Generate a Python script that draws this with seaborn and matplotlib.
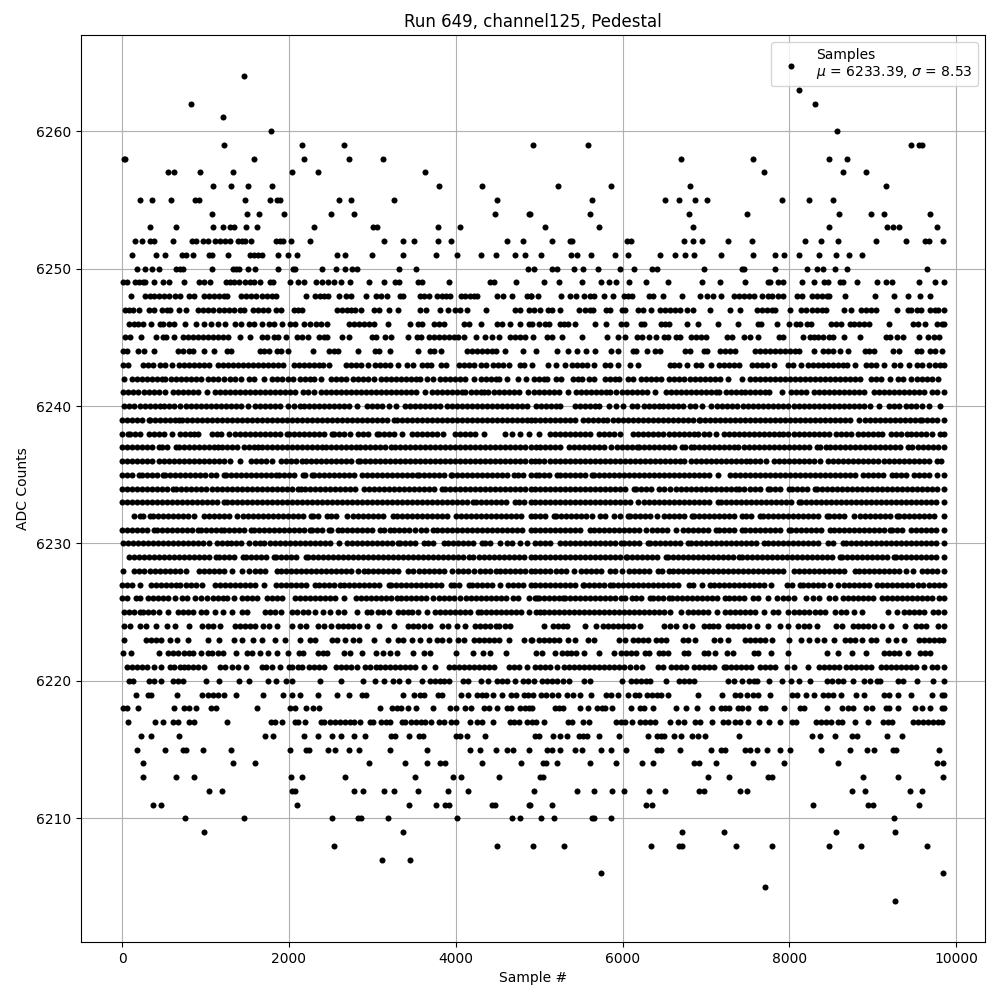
import matplotlib
matplotlib.use("Agg")
import matplotlib.pyplot as plt
import pandas as pd
import seaborn as sns

# samples, one list per ADC level
adc_6264 = [1460]
adc_6263 = [8113]
adc_6262 = [824, 8305]
adc_6261 = [1208]
adc_6260 = [1784, 8569]
adc_6259 = [1220, 2156, 2660, 4925, 5581, 9457, 9557, 9593]
adc_6258 = [20, 40, 1580, 2180, 2720, 3128, 6697, 7561, 8473, 8689]
adc_6257 = [548, 620, 932, 1328, 2036, 2348, 3632, 7693, 8641, 8917]
adc_6256 = [1088, 1304, 1508, 1796, 3800, 4316, 5221, 5857, 6805, 9157]
adc_6255 = [212, 356, 584, 872, 920, 1472, 1772, 1852, 1888, 2600, 2744, 3260, 4496, 5629, 6505, 6673, 6865, 7009, 7909, 8233, 8521]
adc_6254 = [1076, 1496, 1640, 1940, 2504, 2780, 4472, 4880, 4893, 5605, 6793, 7489, 8593, 8977, 9133, 9685]
adc_6253 = [332, 644, 1088, 1208, 1292, 1340, 1484, 1616, 2300, 3008, 3056, 3788, 4052, 5065, 5713, 6841, 8473, 9169, 9241, 9313, 9769]
adc_6252 = [152, 236, 340, 388, 608, 836, 888, 968, 1028, 1112, 1172, 1232, 1292, 1388, 1436, 1472, 1544, 1844, 1892, 1932, 2024, 2252, 3140, 3368, 3500, 3788, 3944, 4616, 4808,
            5149, 5365, 5397, 6049, 6097, 6733, 6841, 6949, 7261, 7549, 8185, 8377, 8581, 9037, 9397, 9625, 9673, 9841]
adc_6251 = [116, 404, 512, 716, 764, 848, 1040, 1076, 1268, 1536, 1580, 1628, 1676, 1868, 1988, 2096, 2576, 2672, 2996, 3368, 3764, 4016, 4304, 4484, 4712, 4832,
            5017, 5377, 5449, 5617, 5905, 6061, 6445, 6625, 6745, 6853, 7177, 7561, 7825, 7933, 8113, 8353, 8557, 8713, 8869]
adc_6250 = [176, 272, 356, 440, 644, 690, 728, 1076, 1328, 1370, 1400, 1508, 1592, 1868, 2048, 2072, 2396, 2564, 2672, 2756, 2816, 3320, 3524, 4868,
            4933, 5149, 5209, 5413, 5521, 5701, 5965, 6133, 6349, 6409, 6973, 7429, 7453, 7825, 8209, 8329, 8401, 8545, 8689, 9649]
adc_6249 = [8, 60, 152, 200, 248, 272, 380, 488, 560, 740, 920, 980, 1052, 1244, 1292, 1340, 1400, 1472, 1532, 1580, 1652, 1772, 1804, 2012, 2108, 2180, 2324, 2396, 2468, 2540, 2624, 2732, 2960, 3140, 3272, 3320, 3548, 3596, 3920, 4412, 4460, 4724,
            5053, 5233, 5509, 5737, 5833, 5917, 6073, 6277, 6541, 6949, 7165, 7465, 7741, 7773, 7861, 7921, 8149, 8293, 8413, 8461, 8605, 8641, 8809, 9049, 9157, 9229, 9553, 9745, 9853]
adc_6248 = [112, 272, 332, 380, 440, 500, 560, 632, 692, 800, 860, 980, 1040, 1100, 1160, 1220, 1260, 1424, 1484, 1544, 1604, 1676, 1736, 1796, 1844, 2204, 2312, 2372, 2420, 2468, 2600, 2684, 2744, 2924, 3044, 3104, 3176, 3332, 3368, 3572, 3620, 3680, 3776, 3836, 3884, 3932, 4064, 4112, 4172, 4220, 4260, 4496, 4568, 4676, 4856, 4900,
            4905, 4981, 5257, 5365, 5437, 5533, 5605, 5653, 5773, 5881, 6013, 6061, 6109, 6313, 6361, 6481, 6709, 6925, 7009, 7081, 7177, 7333, 7393, 7453, 7513, 7573, 7669, 7741, 7789, 7861, 7921, 8089, 8149, 8269, 8329, 8389, 8449, 8473, 8665, 9025, 9253, 9421, 9565, 9685]
adc_6247 = [32, 80, 128, 200, 320, 380, 476, 536, 572, 680, 764, 908, 968, 1028, 1088, 1160, 1220, 1280, 1340, 1412, 1460, 1568, 1628, 1688, 1748, 1844, 1904, 2060, 2108, 2156, 2576, 2636, 2696, 2744, 2792, 2864, 3020, 3080, 3200, 3308, 3572, 3644, 3812, 3908, 3992, 4052, 4136, 4364, 4712, 4772, 4880,
            4933, 5005, 5101, 5149, 5245, 5473, 5545, 5605, 5641, 5797, 5845, 5989, 6025, 6181, 6241, 6337, 6445, 6505, 6565, 6625, 6685, 6769, 6841, 7045, 7285, 7405, 7609, 7669, 7729, 7789, 7825, 8005, 8137, 8197, 8269, 8329, 8389, 8437, 8653, 8737, 8857, 8917, 8977, 9037, 9289, 9421, 9457, 9529, 9577, 9685, 9745, 9781, 9853]
adc_6246 = [80, 140, 188, 248, 344, 452, 488, 560, 620, 752, 884, 980, 1064, 1148, 1232, 1352, 1424, 1520, 1580, 1676, 1760, 1820, 1916, 2012, 2072, 2180, 2252, 2324, 2384, 2456, 2720, 2780, 2840, 2900, 2960, 3020, 3188, 3452, 3548, 3596, 3740, 3800, 3860, 4100, 4160, 4304, 4496, 4556, 4652, 4772, 4880,
            4909, 4993, 5065, 5113, 5245, 5293, 5341, 5425, 5665, 5797, 5977, 6037, 6217, 6253, 6457, 6505, 6553, 6769, 6901, 7141, 7381, 7621, 7657, 7849, 7993, 8077, 8125, 8209, 8257, 8497, 8557, 8617, 8725, 8773, 8833, 8893, 8953, 9193, 9481, 9541, 9625, 9769, 9829, 9853]
adc_6245 = [32, 92, 224, 404, 488, 524, 620, 728, 788, 848, 908, 968, 1028, 1088, 1148, 1208, 1268, 1412, 1532, 1676, 1736, 1820, 1868, 1964, 2096, 2156, 2228, 2360, 2420, 2460, 2636, 2720, 3000, 3044, 3152, 3224, 3428, 3536, 3584, 3680, 3740, 3800, 3860, 3920, 3980, 4028, 4100, 4244, 4352, 4436, 4520, 4652, 4712, 4772, 4832,
            4921, 5089, 5149, 5269, 5509, 5809, 5941, 6025, 6169, 6229, 6313, 6397, 6493, 6541, 6637, 6685, 6817, 6877, 6937, 6997, 7249, 7309, 7453, 7525, 7621, 7873, 7921, 8161, 8245, 8293, 8341, 8401, 8473, 8521, 8653, 8845, 9157, 9205, 9293, 9361, 9553, 9661, 9733, 9793]
adc_6244 = [8, 60, 188, 260, 380, 668, 728, 800, 848, 980, 1100, 1256, 1304, 1652, 1700, 1760, 1856, 1904, 1988, 2288, 2480, 2540, 2588, 2828, 3032, 3080, 3212, 3548, 3692, 3740, 3824, 4136, 4196, 4256, 4316, 4376, 4436, 4484, 4592, 4808,
            4957, 5209, 5341, 5449, 5557, 5665, 5857, 5941, 6121, 6157, 6289, 6385, 6445, 6745, 6805, 6973, 7009, 7165, 7225, 7285, 7345, 7585, 7645, 7705, 7765, 7825, 7885, 7945, 8005, 8065, 8113, 8293, 8401, 8461, 8521, 8605, 8701, 8905, 8953, 9013, 9241, 9313, 9529, 9577, 9685, 9745, 9829]
adc_6243 = [8, 68, 248, 308, 368, 452, 512, 596, 680, 740, 800, 860, 920, 980, 1040, 1148, 1208, 1268, 1328, 1388, 1448, 1508, 1568, 1628, 1688, 1748, 1808, 1868, 1928, 2060, 2120, 2180, 2240, 2300, 2360, 2412, 2480, 2684, 2744, 2804, 2864, 2948, 3032, 3092, 3152, 3212, 3308, 3416, 3488, 3596, 3656, 3704, 3824, 3884, 4040, 4100, 4160, 4220, 4304, 4364, 4448, 4508, 4568, 4640, 4772, 4820,
            4909, 5101, 5197, 5305, 5389, 5449, 5509, 5569, 5653, 5785, 5845, 5941, 6085, 6181, 6565, 6613, 6673, 6769, 6877, 6937, 7057, 7153, 7213, 7273, 7333, 7393, 7549, 7609, 7669, 7729, 7813, 7981, 8041, 8137, 8221, 8281, 8341, 8401, 8461, 8521, 8581, 8641, 8689, 8785, 8917, 8977, 9037, 9133, 9253, 9325, 9433, 9529, 9589, 9673, 9745, 9805, 9853]
adc_6242 = [20, 120, 180, 240, 300, 360, 420, 480, 516, 584, 644, 704, 764, 824, 884, 944, 1028, 1088, 1148, 1220, 1292, 1352, 1424, 1520, 1580, 1700, 1796, 1856, 1916, 1988, 2048, 2132, 2192, 2252, 2300, 2384, 2504, 2564, 2624, 2684, 2768, 2828, 2888, 2948, 3020, 3104, 3164, 3224, 3284, 3344, 3404, 3464, 3524, 3572, 3656, 3728, 3812, 3872, 3932, 3992, 4052, 4112, 4220, 4304, 4364, 4424, 4484, 4520, 4616, 4748, 4844,
            4933, 4993, 5053, 5093, 5197, 5257, 5401, 5461, 5509, 5593, 5653, 5785, 5845, 5905, 5953, 6061, 6121, 6217, 6277, 6337, 6397, 6457, 6553, 6613, 6673, 6733, 6805, 6865, 6925, 6985, 7045, 7105, 7165, 7261, 7429, 7525, 7585, 7645, 7705, 7765, 7825, 7885, 7945, 8005, 8065, 8125, 8185, 8245, 8305, 8365, 8425, 8485, 8545, 8605, 8665, 8725, 8785, 8845, 8977, 9037, 9097, 9205, 9301, 9361, 9457, 9529, 9589, 9649, 9709, 9781]
adc_6241 = [8, 68, 128, 188, 260, 320, 380, 440, 512, 608, 668, 728, 788, 848, 908, 1016, 1112, 1172, 1232, 1292, 1352, 1412, 1472, 1532, 1592, 1652, 1712, 1772, 1832, 1892, 1952, 2012, 2072, 2168, 2228, 2300, 2384, 2444, 2504, 2564, 2624, 2684, 2744, 2804, 2864, 2924, 2984, 3044, 3104, 3164, 3224, 3284, 3344, 3404, 3464, 3524, 3632, 3716, 3776, 3836, 3896, 3956, 4016, 4076, 4112, 4184, 4244, 4304, 4340, 4388, 4460, 4520, 4580, 4640, 4700, 4760, 4868,
            4933, 4993, 5053, 5113, 5173, 5233, 5341, 5437, 5497, 5557, 5617, 5677, 5737, 5797, 5845, 5917, 5989, 6049, 6109, 6169, 6229, 6289, 6385, 6517, 6577, 6637, 6697, 6757, 6817, 6877, 6937, 6997, 7057, 7117, 7153, 7237, 7297, 7357, 7417, 7473, 7533, 7593, 7653, 7713, 7761, 7909, 8017, 8077, 8137, 8197, 8293, 8353, 8413, 8473, 8533, 8593, 8653, 8713, 8773, 8833, 8893, 9013, 9073, 9133, 9193, 9253, 9313, 9373, 9433, 9493, 9553, 9613, 9709, 9769, 9853]
adc_6240 = [20, 80, 140, 212, 272, 332, 392, 452, 500, 564, 628, 692, 764, 824, 884, 944, 1004, 1064, 1124, 1184, 1244, 1304, 1364, 1424, 1508, 1592, 1652, 1712, 1772, 1832, 1892, 1988, 2060, 2132, 2180, 2240, 2300, 2360, 2420, 2480, 2540, 2600, 2660, 2720, 2820, 2940, 3000, 3060, 3120, 3200, 3284, 3392, 3452, 3512, 3572, 3632, 3692, 3752, 3812, 3900, 3960, 4020, 4080, 4140, 4200, 4260, 4320, 4380, 4440, 4500, 4560, 4620, 4680, 4740, 4800, 4860,
            4965, 5025, 5085, 5145, 5205, 5253, 5425, 5485, 5545, 5605, 5665, 5713, 5833, 5917, 6001, 6109, 6169, 6253, 6313, 6373, 6433, 6481, 6541, 6601, 6661, 6721, 6805, 6865, 6949, 7057, 7133, 7193, 7253, 7313, 7373, 7441, 7501, 7561, 7621, 7681, 7741, 7801, 7861, 7921, 7981, 8053, 8113, 8173, 8233, 8293, 8353, 8413, 8473, 8533, 8593, 8653, 8713, 8773, 8833, 8893, 8965, 9073, 9193, 9253, 9313, 9397, 9457, 9517, 9589, 9673, 9805]
adc_6239 = [0, 60, 120, 180, 240, 320, 340, 400, 460, 520, 580, 640, 680, 720, 780, 840, 900, 960, 1020, 1080, 1140, 1200, 1260, 1320, 1380, 1440, 1500, 1560, 1620, 1680, 1740, 1800, 1860, 1920, 1980, 2040, 2100, 2160, 2220, 2280, 2340, 2400, 2460, 2520, 2580, 2640, 2700, 2760, 2820, 2880, 2940, 3000, 3060, 3120, 3180, 3260, 3300, 3360, 3420, 3480, 3540, 3600, 3660, 3720, 3780, 3840, 3900, 3960, 4020, 4080, 4140, 4200, 4260, 4320, 4380, 4440, 4500, 4560, 4620, 4680, 4740, 4800, 4860, 4900,
            4953, 5013, 5073, 5133, 5193, 5253, 5313, 5373, 5433, 5525, 5581, 5641, 5701, 5761, 5813, 5881, 5941, 6001, 6061, 6121, 6181, 6241, 6301, 6361, 6421, 6481, 6541, 6601, 6661, 6721, 6781, 6841, 6913, 6933, 6993, 7053, 7113, 7173, 7233, 7293, 7353, 7413, 7473, 7533, 7593, 7653, 7713, 7773, 7833, 7893, 7953, 8013, 8073, 8133, 8193, 8253, 8313, 8373, 8433, 8493, 8553, 8613, 8673, 8733, 8833, 8905, 8965, 9025, 9085, 9145, 9205, 9265, 9325, 9385, 9445, 9505, 9565, 9593, 9653, 9713, 9773, 9853]
adc_6238 = [0, 68, 100, 160, 220, 320, 380, 440, 500, 600, 692, 752, 812, 860, 908, 1080, 1140, 1188, 1280, 1352, 1412, 1472, 1532, 1592, 1652, 1712, 1772, 1832, 1892, 1972, 2000, 2060, 2120, 2180, 2240, 2300, 2360, 2420, 2520, 2540, 2600, 2660, 2732, 2828, 2888, 2948, 3052, 3080, 3140, 3200, 3260, 3360, 3476, 3536, 3596, 3656, 3716, 3776, 3848, 3992, 4052, 4112, 4172, 4232, 4340, 4592, 4680, 4772, 4880,
            4993, 5125, 5185, 5245, 5305, 5365, 5425, 5485, 5545, 5613, 5713, 5773, 5833, 5893, 5965, 6121, 6181, 6241, 6301, 6361, 6421, 6481, 6553, 6613, 6673, 6733, 6793, 6853, 6901, 6973, 7033, 7117, 7213, 7273, 7333, 7393, 7453, 7513, 7573, 7633, 7693, 7753, 7813, 7873, 7921, 7981, 8053, 8113, 8173, 8233, 8293, 8353, 8413, 8473, 8557, 8617, 8677, 8737, 8821, 8881, 8941, 9001, 9061, 9109, 9217, 9277, 9337, 9413, 9457, 9517, 9577, 9637, 9709, 9805, 9853]
adc_6237 = [0, 60, 120, 180, 240, 300, 360, 440, 484, 544, 644, 680, 740, 800, 860, 920, 980, 1040, 1100, 1148, 1196, 1256, 1316, 1376, 1460, 1520, 1580, 1628, 1676, 1736, 1796, 1856, 1916, 1976, 2036, 2096, 2156, 2216, 2276, 2336, 2400, 2444, 2504, 2564, 2624, 2684, 2744, 2804, 2852, 2912, 2972, 3032, 3092, 3152, 3224, 3272, 3332, 3392, 3452, 3512, 3572, 3632, 3692, 3752, 3812, 3872, 3932, 3992, 4052, 4112, 4172, 4232, 4292, 4352, 4412, 4472, 4532, 4592, 4652, 4712, 4772, 4832, 4900,
            4957, 5013, 5073, 5133, 5193, 5253, 5353, 5413, 5473, 5533, 5593, 5653, 5713, 5773, 5857, 5929, 5989, 6049, 6109, 6169, 6193, 6253, 6313, 6373, 6433, 6493, 6553, 6613, 6709, 6745, 6817, 6853, 6913, 6973, 7033, 7093, 7153, 7213, 7273, 7333, 7381, 7453, 7513, 7573, 7633, 7693, 7753, 7813, 7873, 7933, 7993, 8053, 8113, 8173, 8233, 8329, 8365, 8437, 8485, 8545, 8605, 8665, 8725, 8785, 8845, 8905, 8965, 9025, 9085, 9145, 9205, 9265, 9325, 9421, 9469, 9541, 9601, 9661, 9721, 9781, 9853]
adc_6236 = [0, 60, 120, 180, 240, 300, 360, 440, 500, 560, 620, 680, 740, 800, 860, 920, 980, 1040, 1100, 1160, 1220, 1288, 1412, 1540, 1600, 1660, 1724, 1796, 1904, 1964, 2024, 2084, 2152, 2200, 2260, 2320, 2380, 2440, 2500, 2560, 2620, 2680, 2740, 2828, 2852, 2912, 2972, 3032, 3092, 3152, 3212, 3272, 3332, 3392, 3452, 3512, 3572, 3632, 3692, 3752, 3812, 3872, 3932, 3992, 4052, 4112, 4172, 4232, 4292, 4352, 4412, 4472, 4532, 4592, 4652, 4712, 4772, 4832, 4900,
            4953, 4993, 5053, 5125, 5185, 5245, 5305, 5365, 5425, 5493, 5553, 5613, 5673, 5733, 5793, 5853, 5913, 5973, 6033, 6093, 6153, 6213, 6273, 6333, 6393, 6453, 6513, 6565, 6625, 6685, 6733, 6817, 6877, 6937, 6997, 7057, 7117, 7177, 7237, 7297, 7357, 7417, 7477, 7525, 7585, 7645, 7725, 7821, 7881, 7941, 8001, 8061, 8121, 8181, 8241, 8301, 8365, 8461, 8521, 8581, 8641, 8701, 8761, 8821, 8881, 8941, 9001, 9061, 9133, 9193, 9253, 9313, 9373, 9433, 9493, 9553, 9613, 9673, 9769, 9821]
adc_6235 = [0, 60, 120, 200, 240, 300, 360, 420, 488, 520, 580, 640, 700, 760, 820, 880, 940, 1000, 1060, 1120, 1220, 1244, 1304, 1364, 1424, 1484, 1544, 1604, 1664, 1724, 1784, 1840, 1880, 1940, 2000, 2060, 2168, 2192, 2276, 2300, 2360, 2420, 2480, 2540, 2600, 2660, 2720, 2780, 2872, 2940, 2996, 3056, 3116, 3176, 3236, 3296, 3356, 3416, 3476, 3536, 3560, 3620, 3680, 3740, 3800, 3860, 3944, 3956, 4016, 4076, 4136, 4196, 4256, 4316, 4376, 4436, 4496, 4556, 4616, 4700, 4748, 4808, 4900,
            4957, 4993, 5053, 5113, 5213, 5245, 5305, 5365, 5425, 5485, 5545, 5637, 5653, 5713, 5773, 5833, 5893, 5953, 6013, 6073, 6133, 6193, 6253, 6313, 6373, 6433, 6493, 6553, 6613, 6673, 6733, 6793, 6853, 6913, 6973, 7033, 7141, 7293, 7353, 7413, 7473, 7533, 7593, 7653, 7713, 7773, 7833, 7893, 7953, 8013, 8073, 8133, 8193, 8253, 8313, 8373, 8433, 8493, 8553, 8613, 8673, 8733, 8793, 8881, 8941, 9001, 9061, 9121, 9229, 9277, 9337, 9397, 9493, 9553, 9613, 9673, 9773, 9853]
adc_6234 = [0, 60, 120, 180, 240, 300, 360, 420, 480, 540, 608, 652, 712, 772, 832, 892, 952, 1012, 1072, 1132, 1192, 1252, 1312, 1372, 1432, 1492, 1552, 1612, 1672, 1732, 1792, 1852, 1912, 1972, 2032, 2108, 2144, 2192, 2252, 2312, 2372, 2432, 2492, 2552, 2612, 2672, 2732, 2792, 2900, 2960, 3020, 3080, 3140, 3200, 3260, 3320, 3380, 3440, 3500, 3560, 3620, 3680, 3740, 3836, 3872, 3932, 3992, 4052, 4112, 4172, 4232, 4292, 4352, 4412, 4472, 4532, 4592, 4652, 4712, 4772, 4832, 4900,
            4953, 5013, 5073, 5133, 5193, 5253, 5313, 5373, 5433, 5493, 5553, 5613, 5673, 5733, 5793, 5853, 5913, 5973, 6033, 6133, 6165, 6225, 6285, 6345, 6433, 6493, 6573, 6637, 6697, 6757, 6817, 6877, 6937, 6997, 7057, 7117, 7177, 7237, 7297, 7357, 7393, 7453, 7525, 7585, 7645, 7741, 7765, 7825, 7885, 7993, 8033, 8093, 8153, 8213, 8305, 8329, 8389, 8449, 8509, 8569, 8629, 8689, 8749, 8809, 8869, 8929, 8989, 9049, 9109, 9169, 9229, 9289, 9349, 9409, 9469, 9529, 9589, 9649, 9709, 9769, 9853]
adc_6233 = [0, 60, 120, 180, 240, 300, 360, 420, 480, 540, 600, 660, 720, 780, 840, 900, 960, 1020, 1080, 1140, 1220, 1260, 1320, 1380, 1440, 1500, 1560, 1620, 1680, 1740, 1800, 1860, 1920, 1980, 2040, 2100, 2160, 2220, 2280, 2340, 2400, 2460, 2520, 2580, 2640, 2700, 2760, 2820, 2880, 2940, 3000, 3060, 3120, 3180, 3240, 3300, 3360, 3420, 3480, 3540, 3600, 3660, 3720, 3780, 3840, 3900, 3960, 4020, 4080, 4140, 4212, 4244, 4304, 4364, 4424, 4484, 4544, 4604, 4712, 4760, 4820, 4900,
            4953, 5013, 5073, 5133, 5193, 5253, 5313, 5373, 5433, 5493, 5553, 5613, 5673, 5733, 5793, 5853, 5913, 5973, 6033, 6093, 6181, 6253, 6313, 6373, 6433, 6493, 6553, 6613, 6673, 6733, 6793, 6853, 6913, 6973, 7033, 7141, 7177, 7237, 7297, 7357, 7417, 7477, 7537, 7597, 7657, 7717, 7777, 7837, 7897, 7957, 8017, 8113, 8137, 8197, 8257, 8317, 8377, 8437, 8497, 8557, 8617, 8677, 8737, 8797, 8857, 8917, 8977, 9037, 9097, 9157, 9217, 9277, 9337, 9397, 9457, 9517, 9577, 9637, 9697, 9757, 9853]
adc_6232 = [140, 220, 248, 332, 368, 428, 488, 548, 608, 668, 728, 788, 860, 980, 1040, 1100, 1160, 1220, 1280, 1372, 1448, 1508, 1568, 1628, 1688, 1748, 1808, 1868, 1928, 1988, 2048, 2108, 2168, 2260, 2284, 2344, 2452, 2504, 2564, 2692, 2768, 2828, 2888, 2948, 3008, 3068, 3128, 3248, 3296, 3356, 3416, 3476, 3536, 3596, 3656, 3716, 3776, 3836, 3896, 4004, 4064, 4124, 4184, 4244, 4304, 4364, 4424, 4484, 4544, 4604, 4664, 4724, 4784, 4900,
            4953, 5013, 5073, 5173, 5197, 5257, 5317, 5377, 5437, 5497, 5557, 5629, 5725, 5785, 5893, 5965, 6061, 6085, 6145, 6205, 6265, 6325, 6409, 6493, 6553, 6613, 6673, 6733, 6829, 6853, 6913, 6973, 7033, 7093, 7153, 7213, 7273, 7333, 7429, 7477, 7537, 7645, 7681, 7741, 7801, 7861, 7921, 7981, 8041, 8101, 8161, 8221, 8281, 8341, 8449, 8473, 8533, 8593, 8653, 8773, 8845, 8905, 8965, 9025, 9085, 9145, 9205, 9289, 9313, 9373, 9433, 9493, 9553, 9613, 9673, 9733, 9853]
adc_6231 = [0, 60, 120, 180, 240, 300, 380, 416, 476, 536, 596, 656, 716, 776, 836, 908, 944, 1004, 1064, 1124, 1184, 1220, 1280, 1340, 1400, 1460, 1544, 1580, 1640, 1700, 1760, 1820, 1880, 1940, 2000, 2060, 2120, 2180, 2252, 2276, 2336, 2396, 2480, 2504, 2588, 2636, 2696, 2756, 2816, 2876, 2936, 2996, 3092, 3140, 3212, 3260, 3320, 3380, 3440, 3512, 3584, 3644, 3732, 3776, 3836, 3896, 3956, 4016, 4076, 4136, 4196, 4256, 4316, 4376, 4436, 4496, 4556, 4616, 4676, 4736, 4796, 4900,
            4953, 5013, 5073, 5133, 5193, 5253, 5313, 5373, 5433, 5493, 5605, 5653, 5713, 5773, 5833, 5893, 5953, 6013, 6073, 6133, 6193, 6277, 6349, 6409, 6469, 6529, 6637, 6721, 6781, 6841, 6901, 6961, 7021, 7117, 7153, 7213, 7273, 7333, 7429, 7465, 7525, 7585, 7645, 7705, 7765, 7825, 7885, 7993, 8017, 8077, 8137, 8197, 8257, 8317, 8377, 8485, 8533, 8593, 8653, 8713, 8773, 8833, 8893, 8953, 9013, 9073, 9133, 9205, 9229, 9289, 9349, 9457, 9517, 9577, 9637, 9697, 9757, 9853]
adc_6230 = [8, 68, 128, 188, 248, 308, 368, 428, 488, 548, 608, 668, 728, 788, 848, 908, 968, 1040, 1136, 1196, 1256, 1304, 1364, 1424, 1520, 1592, 1652, 1700, 1772, 1832, 1892, 1952, 2012, 2072, 2132, 2192, 2252, 2312, 2372, 2432, 2492, 2604, 2696, 2756, 2816, 2876, 2936, 2996, 3056, 3116, 3176, 3236, 3308, 3332, 3392, 3452, 3512, 3620, 3668, 3728, 3860, 3908, 3968, 4028, 4088, 4148, 4208, 4316, 4352, 4412, 4532, 4616, 4676, 4772, 4860,
            4953, 5013, 5073, 5133, 5245, 5305, 5365, 5425, 5485, 5545, 5605, 5665, 5725, 5785, 5845, 5905, 5977, 6013, 6073, 6133, 6193, 6301, 6325, 6385, 6445, 6505, 6565, 6625, 6685, 6781, 6817, 6877, 6937, 6997, 7057, 7117, 7177, 7237, 7297, 7357, 7417, 7477, 7537, 7597, 7693, 7741, 7801, 7861, 7921, 7981, 8041, 8101, 8161, 8221, 8281, 8341, 8461, 8521, 8641, 8677, 8737, 8797, 8857, 8917, 8977, 9037, 9097, 9157, 9217, 9277, 9337, 9397, 9457, 9517, 9577, 9637, 9697, 9757, 9853]
adc_6229 = [80, 140, 200, 260, 320, 380, 440, 500, 560, 620, 680, 740, 800, 860, 920, 980, 1040, 1120, 1160, 1220, 1280, 1340, 1448, 1484, 1544, 1604, 1664, 1724, 1820, 1844, 1904, 1964, 2024, 2084, 2204, 2228, 2288, 2348, 2408, 2468, 2528, 2588, 2648, 2708, 2768, 2828, 2888, 2948, 3008, 3068, 3128, 3188, 3248, 3308, 3368, 3428, 3488, 3548, 3608, 3668, 3728, 3788, 3848, 3908, 3968, 4028, 4088, 4160, 4208, 4280, 4340, 4400, 4460, 4520, 4580, 4640, 4700, 4760, 4820, 4900,
            4953, 5013, 5073, 5133, 5193, 5253, 5313, 5373, 5433, 5493, 5553, 5613, 5673, 5733, 5793, 5853, 5913, 5973, 6037, 6053, 6113, 6173, 6233, 6293, 6353, 6413, 6517, 6541, 6601, 6661, 6721, 6781, 6841, 6901, 6961, 7021, 7081, 7141, 7201, 7261, 7321, 7393, 7429, 7489, 7549, 7609, 7669, 7729, 7789, 7849, 7909, 7969, 8029, 8089, 8149, 8209, 8269, 8329, 8389, 8449, 8509, 8605, 8629, 8689, 8749, 8809, 8869, 8929, 8989, 9049, 9109, 9169, 9253, 9277, 9337, 9397, 9457, 9517, 9577, 9637, 9697, 9757, 9853]
adc_6228 = [8, 140, 200, 260, 332, 400, 460, 520, 580, 640, 700, 764, 920, 980, 1040, 1100, 1160, 1220, 1316, 1436, 1520, 1592, 1652, 1712, 1856, 1904, 1964, 2024, 2084, 2144, 2204, 2264, 2324, 2384, 2444, 2504, 2564, 2624, 2684, 2744, 2828, 2900, 2948, 3008, 3068, 3128, 3188, 3248, 3308, 3428, 3488, 3560, 3620, 3680, 3740, 3800, 3860, 3956, 4028, 4088, 4148, 4220, 4292, 4352, 4412, 4484, 4532, 4592, 4652, 4712, 4772, 4832, 4900,
            4953, 5013, 5073, 5133, 5197, 5257, 5317, 5413, 5497, 5557, 5617, 5677, 5737, 5845, 5905, 5989, 6073, 6133, 6193, 6253, 6313, 6421, 6469, 6553, 6601, 6661, 6721, 6781, 6841, 6901, 6961, 7021, 7081, 7141, 7201, 7261, 7321, 7381, 7441, 7501, 7561, 7621, 7681, 7741, 7801, 7861, 7921, 8053, 8113, 8173, 8233, 8293, 8353, 8413, 8473, 8533, 8593, 8653, 8785, 8833, 8893, 8953, 9013, 9073, 9133, 9193, 9253, 9313, 9397, 9481, 9589, 9649, 9709, 9769, 9853]
adc_6227 = [0, 60, 120, 212, 348, 408, 468, 528, 588, 648, 700, 764, 824, 884, 956, 1112, 1172, 1232, 1292, 1352, 1412, 1472, 1532, 1592, 1700, 1844, 1904, 1964, 2024, 2084, 2144, 2204, 2312, 2360, 2420, 2480, 2540, 2612, 2660, 2720, 2780, 2840, 2900, 2960, 3020, 3080, 3200, 3220, 3280, 3340, 3400, 3460, 3520, 3580, 3640, 3700, 3760, 3820, 3944, 3980, 4040, 4160, 4196, 4256, 4316, 4376, 4436, 4532, 4628, 4688, 4748, 4808, 4900,
            4953, 5013, 5073, 5133, 5193, 5253, 5313, 5373, 5433, 5521, 5533, 5593, 5653, 5713, 5773, 5845, 5881, 5941, 6001, 6061, 6121, 6181, 6241, 6301, 6361, 6421, 6481, 6541, 6601, 6661, 6793, 6841, 6949, 7053, 7093, 7153, 7213, 7273, 7333, 7393, 7453, 7513, 7573, 7633, 7693, 7781, 7969, 8029, 8125, 8161, 8221, 8281, 8341, 8401, 8485, 8581, 8653, 8713, 8773, 8833, 8893, 8953, 9053, 9109, 9169, 9229, 9289, 9349, 9409, 9469, 9541, 9601, 9673, 9733, 9793, 9853]
adc_6226 = [0, 60, 164, 212, 308, 368, 428, 488, 548, 632, 716, 776, 872, 944, 1016, 1088, 1148, 1208, 1256, 1340, 1436, 1496, 1556, 1616, 1736, 1796, 1856, 1916, 2072, 2132, 2192, 2252, 2312, 2372, 2432, 2492, 2552, 2660, 2804, 2868, 2928, 2988, 3048, 3108, 3168, 3228, 3296, 3344, 3404, 3464, 3524, 3584, 3644, 3728, 3800, 3860, 3920, 3980, 4052, 4124, 4184, 4244, 4304, 4364, 4424, 4484, 4544, 4604, 4688, 4748, 4880,
            4953, 4973, 4993, 5053, 5113, 5173, 5233, 5281, 5305, 5365, 5425, 5485, 5545, 5605, 5665, 5725, 5785, 5845, 5905, 5977, 6025, 6109, 6157, 6217, 6325, 6361, 6421, 6481, 6553, 6589, 6649, 6709, 6769, 6829, 6889, 6949, 7009, 7069, 7129, 7225, 7273, 7333, 7393, 7453, 7561, 7621, 7741, 7849, 7921, 7981, 8053, 8197, 8281, 8353, 8473, 8545, 8641, 8701, 8761, 8821, 8881, 8941, 9001, 9109, 9169, 9229, 9289, 9349, 9409, 9469, 9529, 9589, 9649, 9709, 9793, 9853]
adc_6225 = [28, 88, 148, 212, 248, 308, 368, 440, 548, 668, 728, 788, 848, 944, 1004, 1112, 1208, 1316, 1436, 1496, 1712, 1772, 1832, 1904, 2036, 2096, 2168, 2228, 2312, 2408, 2492, 2588, 2660, 2816, 2936, 2984, 3068, 3128, 3200, 3308, 3368, 3428, 3476, 3548, 3656, 3752, 3812, 3872, 3932, 3992, 4052, 4112, 4172, 4268, 4304, 4364, 4424, 4484, 4544, 4604, 4664, 4724, 4784, 4880,
            4957, 5005, 5053, 5113, 5173, 5233, 5293, 5353, 5413, 5473, 5533, 5593, 5653, 5713, 5773, 5833, 5893, 5953, 6013, 6073, 6133, 6193, 6253, 6313, 6373, 6433, 6493, 6565, 6697, 6781, 6841, 6901, 6961, 7021, 7129, 7225, 7285, 7345, 7405, 7465, 7525, 7585, 7693, 7801, 7861, 7981, 8053, 8113, 8173, 8233, 8305, 8365, 8425, 8545, 8617, 8677, 8773, 8869, 9181, 9289, 9373, 9433, 9493, 9553, 9613, 9721, 9781, 9853]
adc_6224 = [20, 92, 212, 284, 404, 536, 632, 800, 956, 1028, 1088, 1172, 1352, 1412, 1472, 1532, 1592, 1688, 1760, 1856, 2036, 2132, 2204, 2348, 2420, 2504, 2588, 2648, 2708, 2768, 2840, 2936, 3080, 3260, 3428, 3488, 3548, 3620, 3692, 3836, 3908, 4016, 4112, 4232, 4292, 4352, 4412, 4484, 4520, 4592, 4652,
            5061, 5161, 5221, 5281, 5329, 5545, 5677, 5761, 5821, 5881, 5941, 6001, 6061, 6121, 6205, 6493, 6565, 6637, 6745, 6829, 6973, 7033, 7081, 7141, 7261, 7321, 7381, 7441, 7513, 7609, 7741, 7885, 7981, 8101, 8173, 8233, 8329, 8557, 8629, 8761, 8821, 8881, 8941, 9013, 9109, 9217, 9385, 9517, 9577, 9637, 9781, 9853]
adc_6223 = [28, 284, 344, 404, 464, 572, 656, 788, 1028, 1160, 1340, 1436, 1568, 1676, 1832, 1952, 2132, 2252, 2312, 2516, 2576, 2672, 2768, 2840, 3020, 3188, 3308, 3368, 3476, 3572, 3680, 3776, 3836, 3920, 4028, 4100, 4220, 4280, 4340, 4400, 4460, 4520, 4640, 4820, 4900,
            4909, 4993, 5053, 5113, 5173, 5233, 5341, 5425, 5581, 5653, 5953, 6025, 6121, 6181, 6241, 6301, 6397, 6457, 6517, 6721, 6781, 6865, 7093, 7165, 7261, 7465, 7525, 7585, 7645, 7705, 7789, 7993, 8137, 8233, 8329, 8413, 8533, 8665, 8725, 8785, 8869, 8977, 9037, 9181, 9277, 9373, 9553, 9613, 9673, 9733, 9793, 9841]
adc_6222 = [8, 108, 440, 548, 608, 668, 740, 800, 848, 944, 1028, 1076, 1148, 1208, 1364, 1496, 1556, 1652, 1748, 1856, 1988, 2120, 2168, 2348, 2408, 2460, 2660, 2732, 2876, 3044, 3128, 3212, 3296, 3484, 3620, 3692, 4004, 4208, 4328, 4412, 4604,
            4957, 5029, 5185, 5269, 5329, 5377, 5437, 5533, 5713, 5893, 5977, 6037, 6097, 6157, 6265, 6313, 6433, 6481, 6541, 6733, 6781, 6973, 7021, 7105, 7249, 7321, 7573, 7621, 7777, 7981, 8449, 8581, 8749, 8917, 9133, 9193, 9253, 9313, 9421, 9565, 9625, 9685]
adc_6221 = [60, 120, 180, 240, 300, 380, 464, 572, 620, 692, 740, 788, 848, 908, 980, 1172, 1232, 1316, 1388, 1484, 1676, 1724, 1796, 1892, 2000, 2036, 2108, 2156, 2240, 2300, 2360, 2420, 2564, 2624, 2684, 2740, 2816, 2912, 2972, 3044, 3092, 3152, 3212, 3272, 3332, 3392, 3452, 3512, 3620, 3752, 3920, 3980, 4040, 4100, 4160, 4220, 4280, 4340, 4400, 4460, 4640, 4700, 4760, 4860,
            4953, 5013, 5073, 5133, 5213, 5293, 5353, 5413, 5473, 5533, 5593, 5653, 5713, 5773, 5833, 5893, 5953, 6013, 6093, 6157, 6229, 6421, 6481, 6577, 6637, 6697, 6757, 6853, 6913, 6973, 7033, 7093, 7213, 7237, 7297, 7357, 7417, 7477, 7537, 7653, 7705, 7765, 7825, 7969, 8053, 8221, 8353, 8413, 8473, 8533, 8593, 8677, 8737, 8797, 8853, 8917, 8977, 9097, 9157, 9217, 9277, 9337, 9397, 9457, 9517, 9613, 9709, 9769, 9853]
adc_6220 = [80, 128, 320, 380, 464, 608, 668, 728, 1004, 1160, 1400, 1520, 1748, 1844, 1964, 2036, 2372, 2620, 2888, 3032, 3140, 3248, 3320, 3428, 3596, 3692, 3752, 3812, 3860, 3920, 4088, 4148, 4304, 4388, 4496, 4556, 4616, 4712, 4808, 4868,
            4933, 5029, 5089, 5149, 5209, 5281, 5353, 5533, 5605, 5989, 6097, 6157, 6217, 6277, 6325, 6517, 6673, 6733, 6793, 6853, 7261, 7333, 7429, 7513, 7573, 7609, 7753, 7909, 8017, 8113, 8245, 8449, 8509, 8581, 8641, 8761, 8893, 8965, 9049, 9085, 9301, 9361, 9529, 9721, 9853]
adc_6219 = [164, 308, 344, 656, 956, 1028, 1088, 1148, 1220, 1364, 1688, 1928, 2036, 2132, 2348, 2576, 2720, 2876, 2924, 3368, 3500, 3572, 3620, 3788, 3836, 4064, 4148, 4256, 4316, 4364, 4448, 4556, 4664, 4724, 4820, 4868,
            4921, 5017, 5077, 5149, 5221, 5329, 5401, 5485, 5617, 5797, 5857, 5941, 6061, 6145, 6193, 6289, 6349, 6409, 6457, 6541, 6901, 7189, 7345, 7405, 7489, 7561, 7621, 7765, 8029, 8089, 8197, 8293, 8401, 8461, 8521, 8617, 8797, 8893, 9133, 9193, 9301, 9457, 9709, 9829, 9853]
adc_6218 = [8, 60, 188, 620, 740, 800, 884, 1064, 1124, 1616, 2012, 2072, 2200, 2288, 2360, 3092, 3236, 3296, 3344, 3428, 3524, 3728, 3932, 4004, 4112, 4184, 4340, 4400, 4496, 4616, 4664, 4772, 4832, 4880,
            4909, 5185, 5233, 5281, 5485, 5581, 5689, 5749, 5785, 5877, 6097, 6205, 6253, 6361, 6637, 6757, 6889, 7069, 7177, 7225, 7273, 7381, 7429, 7501, 7657, 7705, 7933, 8125, 8173, 8449, 8629, 8701, 8761, 8917, 8989, 9157, 9193, 9301, 9505, 9589, 9685, 9829, 9853]
adc_6217 = [68, 392, 488, 608, 668, 800, 860, 1256, 1784, 1832, 1916, 2072, 2108, 2192, 2384, 2420, 2492, 2552, 2612, 2672, 2732, 2780, 2852, 2972, 3008, 3104, 3164, 3212, 3356, 3392, 3464, 3524, 3584, 3632, 3704, 3800, 3860, 3944, 4004, 4172, 4256, 4316, 4448, 4652, 4700, 4760, 4856,
            4909, 4957, 5053, 5341, 5389, 5521, 5593, 5917, 5977, 6025, 6109, 6205, 6265, 6325, 6385, 6565, 6661, 6733, 6865, 6925, 7069, 7201, 7261, 7345, 7405, 7501, 7633, 7753, 7885, 8029, 8077, 8317, 8377, 8437, 8497, 8581, 8629, 8785, 8941, 9121, 9181, 9229, 9481, 9541, 9601, 9661, 9721, 9781, 9829]
adc_6216 = [224, 344, 680, 1712, 1808, 2180, 2348, 2516, 2624, 2780, 2912, 3224, 3272, 3440, 3560, 3608, 4004, 4052, 4136, 4352,
            4945, 4993, 5161, 5245, 5329, 5473, 5521, 5569, 5713, 5953, 6301, 6409, 6457, 6493, 6613, 6697, 6829, 6901, 6985, 7393, 8269, 8365, 8545, 8749, 8809, 9169, 9349]
adc_6215 = [176, 512, 728, 764, 968, 1304, 2012, 2204, 2240, 2468, 2552, 2720, 2840, 3212, 3656, 4172, 4292, 4484, 4616, 4688, 4880,
            5089, 5149, 5245, 5425, 5509, 5737, 5857, 6037, 6409, 6457, 6685, 7057, 7177, 7225, 7465, 7525, 7609, 7729, 7885, 8005, 8377, 8725, 8929, 9013, 9241, 9277, 9793]
adc_6214 = [248, 1328, 1592, 2960, 3392, 3656, 3812, 3872, 4316, 4784, 5041, 5077, 5209, 5605, 5917, 6229, 6361, 6853, 6913, 7117, 7561, 7933, 8581, 9769, 9841]
adc_6213 = [248, 644, 860, 2024, 2156, 2672, 3512, 3968, 4064, 4520, 5005, 5041, 7021, 7273, 7741, 7789, 8881, 9301, 9845]
adc_6212 = [1040, 1196, 2036, 2072, 2780, 2888, 3140, 3260, 3548, 3908, 4148, 4933, 5449, 5653, 5869, 6013, 6313, 6505, 6913, 6973, 7405, 7489, 8749, 8905, 9445, 9589]
adc_6211 = [368, 464, 2096, 3440, 3764, 3872, 3920, 4436, 4472, 4880, 4893, 5149, 6277, 6349, 8281, 8941, 9001, 9553]
adc_6210 = [752, 1460, 2516, 2828, 2864, 3188, 4016, 4676, 4772, 5017, 5173, 5629, 5653, 5857, 9253]
adc_6209 = [980, 3368, 6709, 7213, 8557, 9265]
adc_6208 = [2540, 4496, 4921, 5293, 6337, 6673, 6709, 7357, 7789, 8473, 8857, 9649]
adc_6207 = [3116, 3452]
adc_6206 = [5737, 9841]
adc_6205 = [7705]
adc_6204 = [9265]

levels = [6204, 6205, 6206, 6207, 6208, 6209, 6210, 6211, 6212, 6213, 6214, 6215, 6216, 6217, 6218, 6219, 6220,
          6221, 6222, 6223, 6224, 6225, 6226, 6227, 6228, 6229, 6230, 6231, 6232, 6233, 6234, 6235, 6236, 6237,
          6238, 6239, 6240, 6241, 6242, 6243, 6244, 6245, 6246, 6247, 6248, 6249, 6250, 6251, 6252, 6253, 6254,
          6255, 6256, 6257, 6258, 6259, 6260, 6261, 6262, 6263, 6264]
rows = [adc_6204, adc_6205, adc_6206, adc_6207, adc_6208, adc_6209, adc_6210, adc_6211, adc_6212, adc_6213, adc_6214, adc_6215, adc_6216, adc_6217, adc_6218, adc_6219, adc_6220,
        adc_6221, adc_6222, adc_6223, adc_6224, adc_6225, adc_6226, adc_6227, adc_6228, adc_6229, adc_6230, adc_6231, adc_6232, adc_6233, adc_6234, adc_6235, adc_6236, adc_6237,
        adc_6238, adc_6239, adc_6240, adc_6241, adc_6242, adc_6243, adc_6244, adc_6245, adc_6246, adc_6247, adc_6248, adc_6249, adc_6250, adc_6251, adc_6252, adc_6253, adc_6254,
        adc_6255, adc_6256, adc_6257, adc_6258, adc_6259, adc_6260, adc_6261, adc_6262, adc_6263, adc_6264]

df = pd.concat([pd.DataFrame({'sample': r, 'adc': lev}) for lev, r in zip(levels, rows)])

fig, ax = plt.subplots(figsize=(10, 10))
sns.scatterplot(data=df, x='sample', y='adc', color='k', s=19, linewidth=0, zorder=2, ax=ax,
                label='Samples\n$\\mu$ = 6233.39, $\\sigma$ = 8.53')
ax.set_xlabel('Sample #')
ax.set_ylabel('ADC Counts')
ax.set_title('Run 649, channel125, Pedestal')
ax.grid(True)
ax.legend(loc='upper right')
fig.subplots_adjust(left=0.081, right=0.985, top=0.965, bottom=0.058)
plt.savefig('out.png', dpi=100)
